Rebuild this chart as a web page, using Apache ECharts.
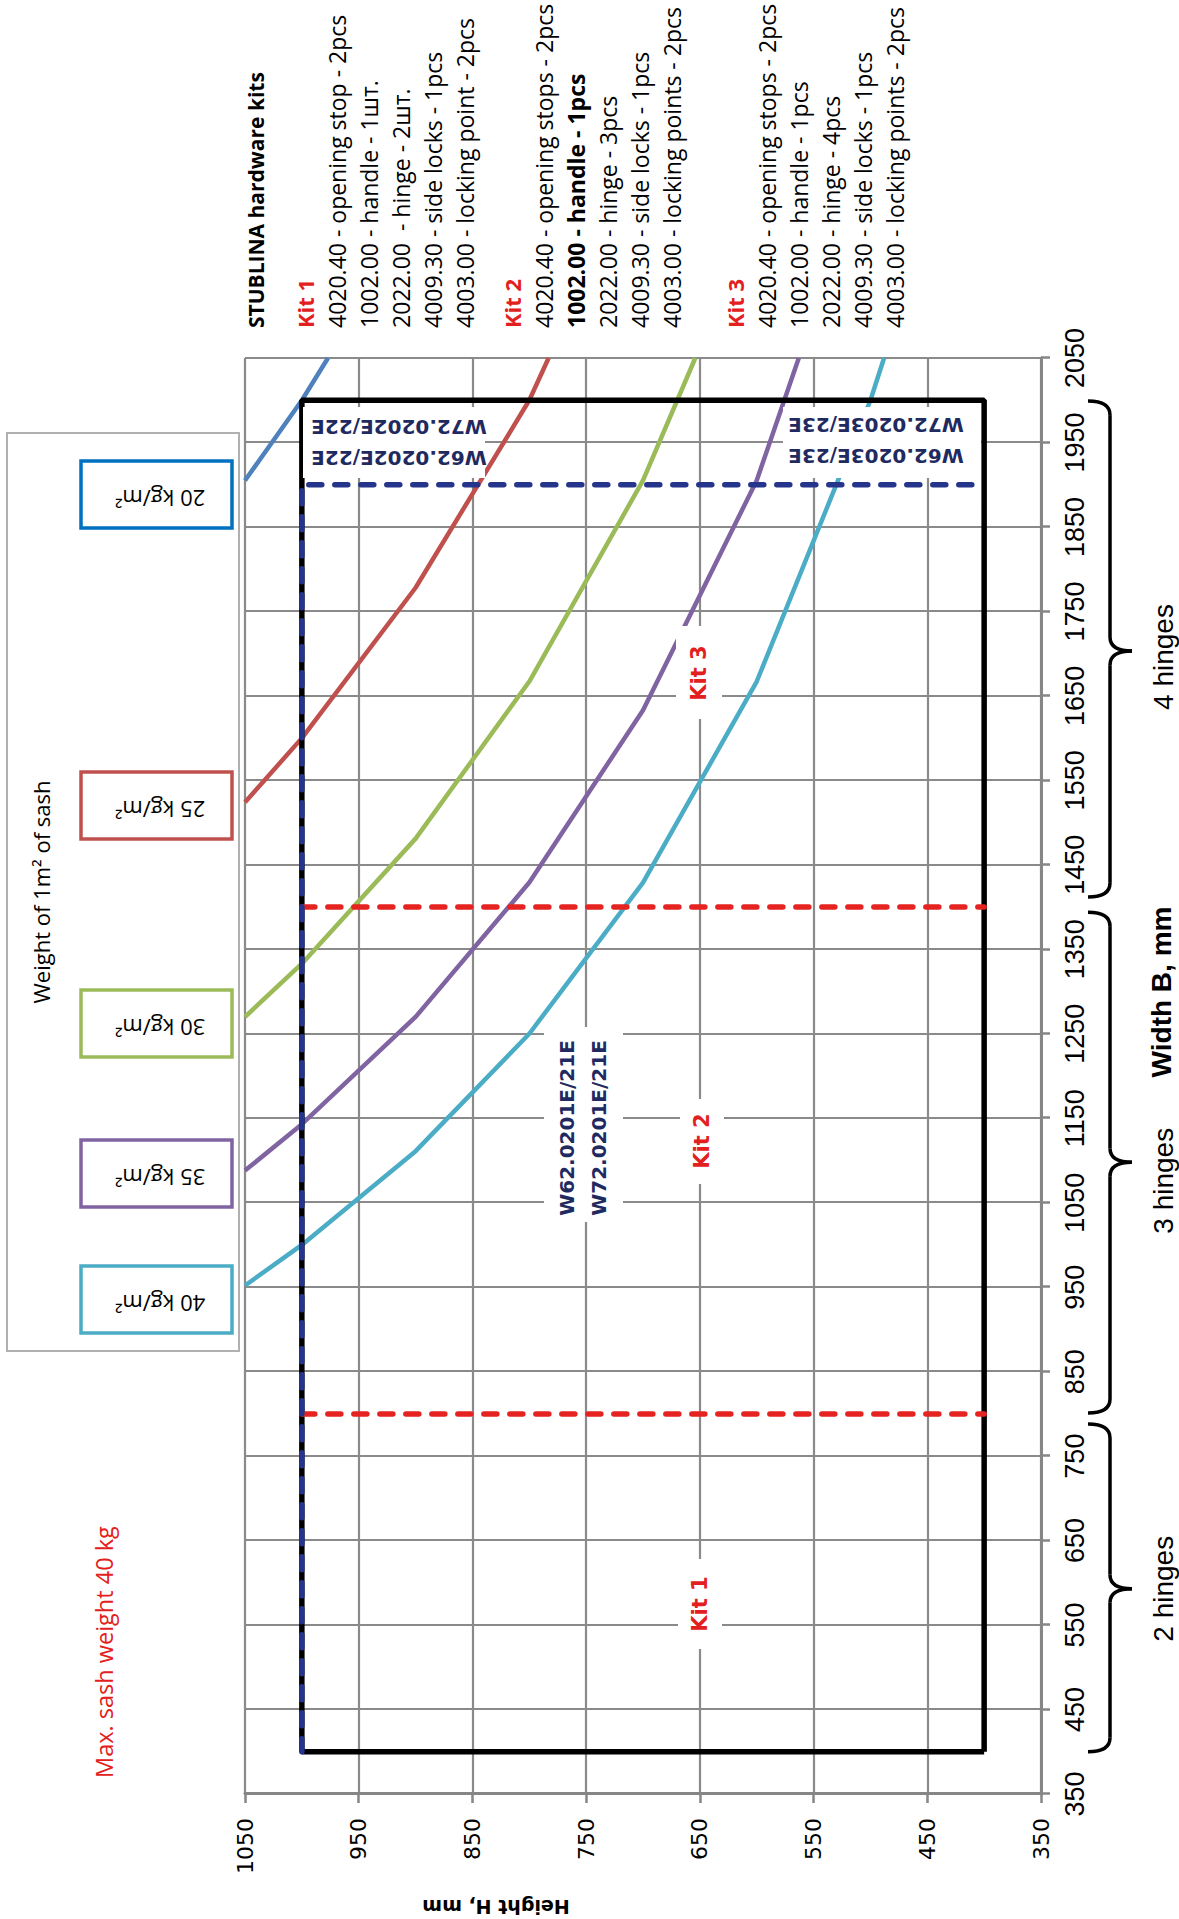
<!DOCTYPE html>
<html>
<head>
<meta charset="utf-8">
<script src="https://cdn.jsdelivr.net/npm/echarts@6/dist/echarts.min.js"></script>
<style>
  html, body { margin: 0; padding: 0; width: 1179px; height: 1919px; overflow: hidden; background: #fff; }
  /* the chart is laid out landscape and then turned a quarter to the left */
  #chart { position: absolute; left: 0; top: 0; width: 1919px; height: 1179px;
           transform-origin: 0 0; transform: translateY(1919px) rotate(-90deg); }
</style>
</head>
<body>
<div id="chart"></div>
<script>
// axes: width B on x, height H on y (mm)
const widthMin = 350, widthMax = 2050, widthStep = 100;
const heightMin = 350, heightMax = 1050, heightStep = 100;

// weight curves, [width B, height H]
const kg20 = [[1905, 1050], [2000, 1000], [2050, 977]];
const kg25 = [[1524, 1050], [1600, 1000], [1778, 900], [2000, 800], [2050, 783]];
const kg30 = [[1270, 1050], [1333, 1000], [1481, 900], [1667, 800], [1905, 700], [2050, 654]];
const kg35 = [[1088, 1050], [1143, 1000], [1270, 900], [1429, 800], [1633, 700], [1905, 600], [2050, 563]];
const kg40 = [[952, 1050], [1000, 1000], [1111, 900], [1250, 800], [1429, 700], [1667, 600], [2000, 500], [2050, 488]];
const weightNames = ['20 kg/m²', '25 kg/m²', '30 kg/m²', '35 kg/m²', '40 kg/m²'];
const weightColors = ['#4f81bd', '#c0504d', '#9bbb59', '#8064a2', '#4bacc6'];
const legendBorders = ['#0070c0', '#c0504d', '#9bbb59', '#8064a2', '#4bacc6'];

// admissible sash frame
const frameB = [400, 2000, 2000, 400, 400];
const frameH = [400, 400, 1000, 1000, 400];
// 22E / 23E limit (blue dashed)
const limitB = [400, 1900, 1900];
const limitH = [1000, 1000, 400];
// kit borders (red dashed)
const kitBorderB = [800, 1400];
const kitBorderH = [1000, 400];

// hinge braces: from B, to B, tip B
const hingeRanges = [[400, 788, 593], [801, 1394, 1098], [1412, 1999, 1703]];
const hingeLabelB = [593, 1076, 1696];
const hingeLabels = ['2 hinges', '3 hinges', '4 hinges'];

const kitTitle = 'STUBLINA hardware kits';
const kitNames = ['Kit 1', 'Kit 2', 'Kit 3'];
const kit1 = ['4020.40 - opening stop - 2pcs', '1002.00 - handle - 1шт.', '2022.00\u00a0 - hinge - 2шт.', '4009.30 - side locks - 1pcs', '4003.00 - locking point - 2pcs'];
const kit2 = ['4020.40 - opening stops - 2pcs', '1002.00 - handle - 1pcs', '2022.00 - hinge - 3pcs', '4009.30 - side locks - 1pcs', '4003.00 - locking points - 2pcs'];
const kit3 = ['4020.40 - opening stops - 2pcs', '1002.00 - handle - 1pcs', '2022.00 - hinge - 4pcs', '4009.30 - side locks - 1pcs', '4003.00 - locking points - 2pcs'];

const narrow = '"Liberation Sans Narrow", "Liberation Sans", sans-serif';
const sans = '"Open Sans", "Noto Sans", sans-serif';
const deja = '"DejaVu Sans", sans-serif';
const red = '#e32020';
const navy = '#1f2a60';

const zip = (xs, ys) => xs.map((x, i) => [x, ys[i]]);

const chart = echarts.init(document.getElementById('chart'), null, { renderer: 'svg' });

const series = [kg20, kg25, kg30, kg35, kg40].map((d, i) => ({
    type: 'line', name: weightNames[i], data: d, symbol: 'none', clip: true, z: 3,
    lineStyle: { color: weightColors[i], width: 4.5 }
}));
series.push({
    type: 'line', data: zip(frameB, frameH), symbol: 'none', z: 4,
    lineStyle: { color: '#000', width: 5.5 }
});
kitBorderB.forEach(b => {
    series.push({
        type: 'line', data: kitBorderH.map(h => [b, h]), symbol: 'none', z: 5,
        lineStyle: { color: '#e52421', width: 5.5, type: [13, 13], cap: 'round' }
    });
});
series.push({
    type: 'line', data: zip(limitB, limitH), symbol: 'none', z: 6,
    lineStyle: { color: '#26358c', width: 5.5, type: [13, 13], cap: 'round' }
});

chart.setOption({
    animation: false,
    grid: { left: 125, right: 358, top: 245, bottom: 138 },
    xAxis: {
        type: 'value', min: widthMin, max: widthMax, interval: widthStep,
        axisLine: { show: true, onZero: false, lineStyle: { color: '#868686', width: 3 } },
        axisTick: { show: true, length: 9, lineStyle: { color: '#868686', width: 2.5 } },
        axisLabel: { color: '#000', fontSize: 27, fontFamily: narrow, margin: 20, showMinLabel: true, showMaxLabel: true,
                     formatter: v => String(v) },
        splitLine: { show: true, lineStyle: { color: '#8a8a8a', width: 2.2 } }
    },
    yAxis: {
        type: 'value', min: heightMin, max: heightMax, interval: heightStep,
        axisLine: { show: true, onZero: false, lineStyle: { color: '#868686', width: 3 } },
        axisTick: { show: true, length: 9, lineStyle: { color: '#868686', width: 2.5 } },
        axisLabel: { color: '#000', fontSize: 22, fontFamily: deja, margin: 24, showMinLabel: true, showMaxLabel: true,
                     formatter: v => String(v) },
        splitLine: { show: true, lineStyle: { color: '#8a8a8a', width: 2.2 } }
    },
    series: series
});

function text(str, x, y, font, fill, opt) {
    opt = opt || {};
    return {
        type: 'text', x: x, y: y, rotation: opt.rot || 0, z: 100,
        style: {
            text: str, font: font, fill: fill,
            align: opt.align || 'center', verticalAlign: 'middle',
            textAlign: opt.align || 'center', textVerticalAlign: 'middle',
            lineHeight: opt.lh || undefined
        }
    };
}
function box(x, y, w, h, stroke, lw) {
    return {
        type: 'rect', z: 90, shape: { x: x, y: y, width: w, height: h },
        style: { fill: '#fff', stroke: stroke || null, lineWidth: lw || 0 }
    };
}
const braceStyle = { fill: null, stroke: '#000', lineWidth: 3.5 };
function curve(x1, y1, cx, cy, x2, y2) {
    return { type: 'bezierCurve', z: 90, shape: { x1: x1, y1: y1, cpx1: cx, cpy1: cy, x2: x2, y2: y2 }, style: braceStyle };
}
function seg(x1, y1, x2, y2) {
    return { type: 'line', z: 90, shape: { x1: x1, y1: y1, x2: x2, y2: y2 }, style: braceStyle };
}
const px = b => chart.convertToPixel({ gridIndex: 0 }, [b, heightMin])[0];

const g = [];

// legend frame (weight of 1 m2)
g.push(box(568, 7, 918, 232, '#b0b0b0', 2));
g.push(text('Weight of 1m² of sash', 1027, 41, '22px ' + sans, '#000'));
const legendCenters = [1424.5, 1113.5, 895.5, 745.5, 619.5];
legendCenters.forEach((c, i) => {
    g.push(box(c - 33.5, 81, 67, 151, legendBorders[i], 3.5));
    g.push(text(weightNames[i], c - 4, 160, '22px ' + sans, '#000', { rot: Math.PI / 2 }));
});

g.push(text('Max. sash weight 40 kg', 141, 104, '23.5px ' + sans, red, { align: 'left' }));

// axis titles
g.push(text('Height H, mm', 12, 496, 'bold 19px ' + deja, '#000', { rot: Math.PI / 2 }));
g.push(text('Width B, mm', 927, 1161, 'bold 28px ' + narrow, '#000'));

// hinge braces
hingeRanges.forEach((r, i) => {
    const a = px(r[0]), b = px(r[1]), t = px(r[2]);
    const s = 1110, e = 1088, p = 1132, k = 14;
    g.push(curve(a, e, a, s, a + k, s));
    g.push(seg(a + k, s, t - k, s));
    g.push(curve(t - k, s, t, s, t, p));
    g.push(curve(t, p, t, s, t + k, s));
    g.push(seg(t + k, s, b - k, s));
    g.push(curve(b - k, s, b, s, b, e));
    g.push(text(hingeLabels[i], px(hingeLabelB[i]), 1163, '28px ' + narrow, '#000'));
});

// hardware kit list
const listX = 1591;
g.push(text(kitTitle, listX, 256, 'bold 21px ' + sans, '#000', { align: 'left' }));
const kitTop = [305, 512, 735];
[kit1, kit2, kit3].forEach((lines, k) => {
    g.push(text(kitNames[k], listX, kitTop[k], 'bold 22px ' + sans, red, { align: 'left' }));
    lines.forEach((ln, j) => {
        const bold = (k === 1 && j === 1) ? 'bold ' : '';
        g.push(text(ln, listX, kitTop[k] + 32 * (j + 1), bold + '23px ' + sans, '#000', { align: 'left' }));
    });
});

// labels inside the plot
g.push(box(270, 678, 90, 44));
g.push(text(kitNames[0], 315, 700, 'bold 21px ' + deja, red));
g.push(box(735, 680, 85, 44));
g.push(text(kitNames[1], 778, 702, 'bold 21px ' + deja, red));
g.push(box(1200, 676, 93, 46));
g.push(text(kitNames[2], 1246, 699, 'bold 21px ' + deja, red));

g.push(box(697, 544, 195, 79));
g.push(text('W62.0201E/21E\nW72.0201E/21E', 791, 583, 'bold 20px ' + deja, navy, { lh: 32 }));
g.push(box(1441, 303, 71, 182));
g.push(text('W62.0202E/22E\nW72.0202E/22E', 1477, 399, 'bold 20px ' + deja, navy, { rot: Math.PI / 2, lh: 31 }));
g.push(box(1441, 783, 71, 198));
g.push(text('W62.0203E/23E\nW72.0203E/23E', 1479, 876, 'bold 20px ' + deja, navy, { rot: Math.PI / 2, lh: 31 }));

chart.setOption({ graphic: g });
</script>
</body>
</html>
